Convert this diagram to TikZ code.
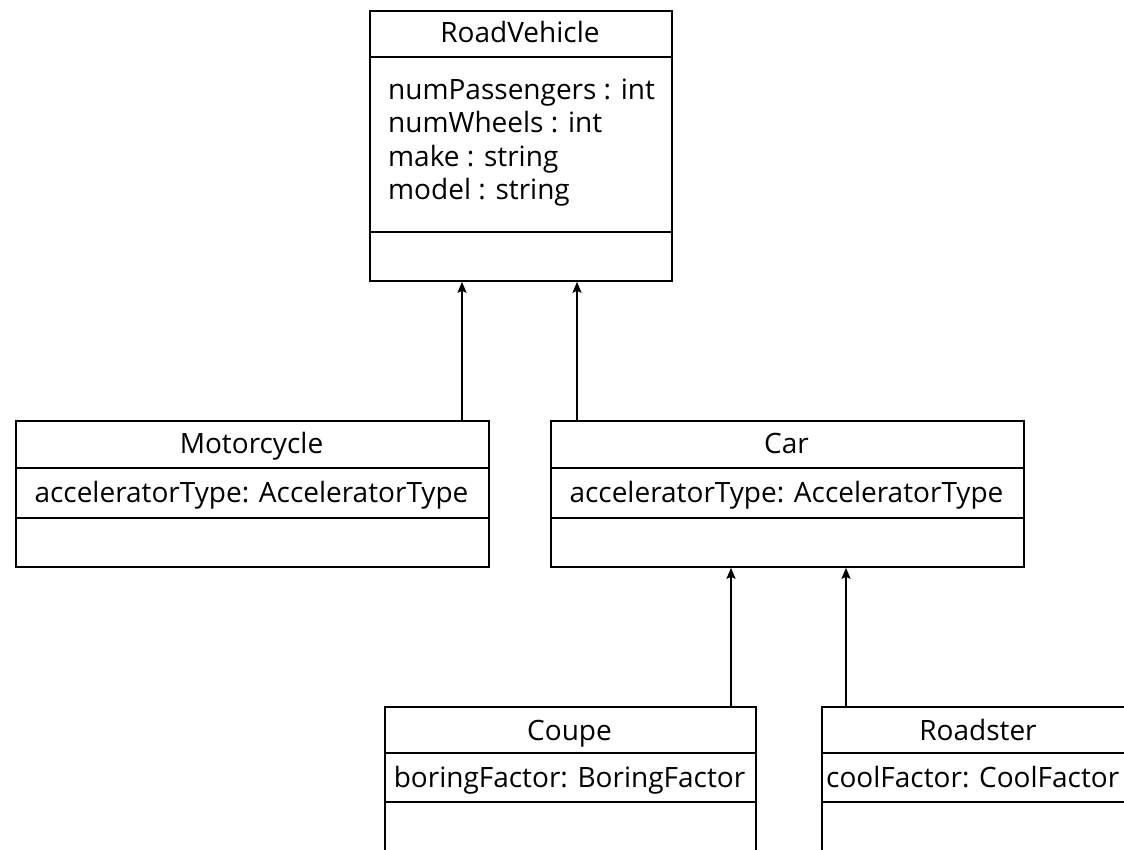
\documentclass[tikz,border=0pt]{standalone}
\usepackage{fontspec}
\setmainfont{Open Sans}
\usetikzlibrary{arrows.meta}
\tikzset{
  classbox/.style={draw, line width=1.8pt, anchor=north west, inner sep=0pt},
  divider/.style={line width=1.8pt},
  label/.style={inner sep=0pt, anchor=base, font=\fontsize{28}{33.5}\selectfont},
  inh/.style={line width=1.8pt, -{Stealth[length=11pt,width=9pt,inset=2pt]}}
}
\begin{document}
\begin{tikzpicture}[x=1pt, y=-1pt]
  \useasboundingbox (0,0) rectangle (1124,850);
  \clip (0,0) rectangle (1124,850);

  % RoadVehicle
  \node[classbox, minimum width=302pt, minimum height=270pt] (rv) at (369,10) {};
  \draw[divider] (369,57) -- (671,57);
  \draw[divider] (369,232) -- (671,232);
  \node[label] (rvname) at (520,43) {RoadVehicle};
  % base anchor of a multi-line node sits on its last line
  \node[label, anchor=base west, align=left] (rvattr) at (388,200)
    {numPassengers : int\\numWheels : int\\make : string\\model : string};

  % Motorcycle
  \node[classbox, minimum width=473pt, minimum height=146pt] (moto) at (15,420) {};
  \draw[divider] (15,468) -- (488,468);
  \draw[divider] (15,518) -- (488,518);
  \node[label] (motoname) at (251.5,453) {Motorcycle};
  \node[label] (motoattr) at (251.5,502) {acceleratorType: AcceleratorType};

  % Car
  \node[classbox, minimum width=473pt, minimum height=146pt] (car) at (550,420) {};
  \draw[divider] (550,468) -- (1023,468);
  \draw[divider] (550,518) -- (1023,518);
  \node[label] (carname) at (786.5,453) {Car};
  \node[label] (carattr) at (786.5,502) {acceleratorType: AcceleratorType};

  % Coupe
  \node[classbox, minimum width=371pt, minimum height=200pt] (coupe) at (384,706) {};
  \draw[divider] (384,753) -- (755,753);
  \draw[divider] (384,802) -- (755,802);
  \node[label] (coupename) at (569.5,740) {Coupe};
  \node[label] (coupeattr) at (569.5,787) {boringFactor: BoringFactor};

  % Roadster
  \node[classbox, minimum width=314pt, minimum height=200pt] (road) at (821,706) {};
  \draw[divider] (821,753) -- (1135,753);
  \draw[divider] (821,802) -- (1135,802);
  \node[label] (roadname) at (978,740) {Roadster};
  \node[label, anchor=base west] (roadattr) at (826,787) {coolFactor: CoolFactor};

  % Generalisations
  \draw[inh] (moto.north -| 462,0) -- (rv.south -| 462,0);
  \draw[inh] (car.north -| 577,0) -- (rv.south -| 577,0);
  \draw[inh] (coupe.north -| 731,0) -- (car.south -| 731,0);
  \draw[inh] (road.north -| 846,0) -- (car.south -| 846,0);
\end{tikzpicture}
\end{document}
